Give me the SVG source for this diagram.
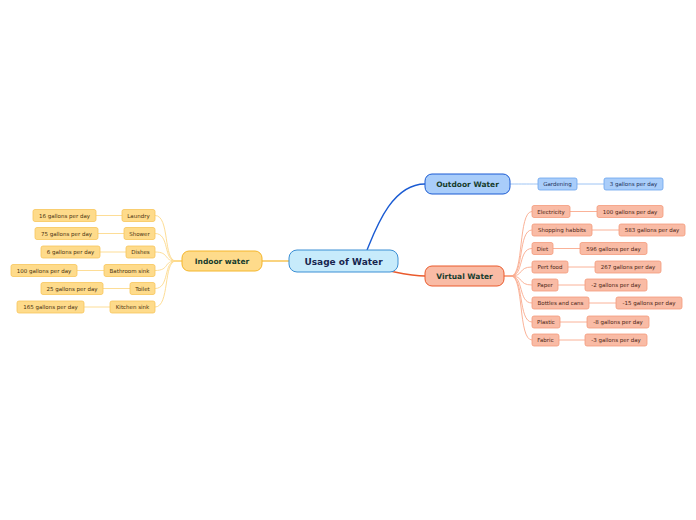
<svg xmlns="http://www.w3.org/2000/svg" width="696" height="520" viewBox="0 0 696 520">
<style>
text{font-family:"DejaVu Sans",Verdana,sans-serif;text-anchor:middle;dominant-baseline:central}
.main{font-weight:bold;font-size:7.5px}
.sub{font-size:5.5px}
.ind rect{fill:#fedb8b;stroke:#f8c55a;stroke-width:0.8}
.ind text{fill:#4a3210}
.vir rect{fill:#f9bba5;stroke:#f49a7b;stroke-width:0.8}
.vir text{fill:#4a1f14}
.out rect{fill:#a9cdfa;stroke:#6aa3ee;stroke-width:0.8}
.out text{fill:#1c2f57}
.cy{fill:none;stroke:#fdd98a;stroke-width:0.9}
.cv{fill:none;stroke:#f9a98c;stroke-width:0.9}
.cb{fill:none;stroke:#93bdf3;stroke-width:0.9}
</style>
<rect width="696" height="520" fill="#ffffff"/>
<g id="connectors">
<path d="M367,250 C376,228 392,184 425,184" fill="none" stroke="#1a5bd3" stroke-width="1.4"/>
<path d="M390,271 C405,274 414,276 425,276" fill="none" stroke="#ea5a2c" stroke-width="1.4"/>
<path d="M289,261 L261,261" fill="none" stroke="#f5b62b" stroke-width="1.2"/>
<path class="cb" d="M510,184 C524,184 524,184 538,184"/>
<path class="cb" d="M577,184 L604,184"/>
<path class="cy" d="M182,261 L176,261 C163,261 170,215.5 155,215.5"/>
<path class="cy" d="M182,261 L176,261 C163,261 170,233.5 155,233.5"/>
<path class="cy" d="M182,261 L176,261 C163,261 170,252 155,252"/>
<path class="cy" d="M182,261 L176,261 C163,261 170,270.5 155,270.5"/>
<path class="cy" d="M182,261 L176,261 C163,261 170,288.5 155,288.5"/>
<path class="cy" d="M182,261 L176,261 C163,261 170,307 155,307"/>
<path class="cy" d="M122,215.5 L96,215.5 M124,233.5 L98,233.5 M126,252 L100,252 M104,270.5 L77,270.5 M130,288.5 L103,288.5 M110,307 L84,307"/>
<path class="cv" d="M504,276 L511,276 C524,276 518,211.5 532,211.5"/>
<path class="cv" d="M504,276 L511,276 C524,276 518,230 532,230"/>
<path class="cv" d="M504,276 L511,276 C524,276 518,248.5 532,248.5"/>
<path class="cv" d="M504,276 L511,276 C524,276 518,267 532,267"/>
<path class="cv" d="M504,276 L511,276 C524,276 518,285 532,285"/>
<path class="cv" d="M504,276 L511,276 C524,276 518,303 532,303"/>
<path class="cv" d="M504,276 L511,276 C524,276 518,322 532,322"/>
<path class="cv" d="M504,276 L511,276 C524,276 518,340 532,340"/>
<path class="cv" d="M570,211.5 L597,211.5 M592,230 L619,230 M553,248.5 L580,248.5 M568,267 L595,267 M558,285 L585,285 M589,303 L616,303 M560,322 L587,322 M559,340 L585,340"/>
</g>
<g id="central">
<rect x="289" y="250" width="109" height="22" rx="8" fill="#c7ebfb" stroke="#3b8fd4" stroke-width="1"/>
<text x="343.5" y="261.5" font-weight="bold" font-size="9" fill="#17264f">Usage of Water</text>
</g>
<g id="outdoor" class="out">
<rect x="425" y="174" width="85" height="20" rx="7" style="stroke:#1a5bd3;stroke-width:1"/>
<text class="main" x="467.5" y="184.5" style="fill:#173d2e">Outdoor Water</text>
</g>
<g id="virtual" class="vir">
<rect x="425" y="266" width="79" height="20" rx="7" style="stroke:#ea5a2c;stroke-width:1"/>
<text class="main" x="464.5" y="276.5" style="fill:#173d2e">Virtual Water</text>
</g>
<g id="indoor" class="ind">
<rect x="182" y="251" width="80" height="20" rx="7" style="stroke:#f5b62b;stroke-width:1"/>
<text class="main" x="222" y="261.5" style="fill:#173d2e">Indoor water</text>
</g>
<g id="gardening" class="out"><rect x="538" y="178" width="39" height="12" rx="2"/><text class="sub" x="557.5" y="184.3">Gardening</text></g>
<g id="gardening-amt" class="out"><rect x="604" y="178" width="59" height="12" rx="2"/><text class="sub" x="633.5" y="184.3">3 gallons per day</text></g>
<g id="laundry" class="ind"><rect x="122" y="209.5" width="33" height="12" rx="2"/><text class="sub" x="138.5" y="215.8">Laundry</text></g>
<g id="laundry-amt" class="ind"><rect x="33" y="209.5" width="63" height="12" rx="2"/><text class="sub" x="64.5" y="215.8">16 gallons per day</text></g>
<g id="shower" class="ind"><rect x="124" y="227.5" width="31" height="12" rx="2"/><text class="sub" x="139.5" y="233.8">Shower</text></g>
<g id="shower-amt" class="ind"><rect x="35" y="227.5" width="63" height="12" rx="2"/><text class="sub" x="66.5" y="233.8">75 gallons per day</text></g>
<g id="dishes" class="ind"><rect x="126" y="246" width="29" height="12" rx="2"/><text class="sub" x="140.5" y="252.3">Dishes</text></g>
<g id="dishes-amt" class="ind"><rect x="41" y="246" width="59" height="12" rx="2"/><text class="sub" x="70.5" y="252.3">6 gallons per day</text></g>
<g id="bathroom" class="ind"><rect x="104" y="264.5" width="51" height="12" rx="2"/><text class="sub" x="129.5" y="270.8">Bathroom sink</text></g>
<g id="bathroom-amt" class="ind"><rect x="11" y="264.5" width="66" height="12" rx="2"/><text class="sub" x="44" y="270.8">100 gallons per day</text></g>
<g id="toilet" class="ind"><rect x="130" y="282.5" width="25" height="12" rx="2"/><text class="sub" x="142.5" y="288.8">Toilet</text></g>
<g id="toilet-amt" class="ind"><rect x="41" y="282.5" width="62" height="12" rx="2"/><text class="sub" x="72" y="288.8">25 gallons per day</text></g>
<g id="kitchen" class="ind"><rect x="110" y="301" width="45" height="12" rx="2"/><text class="sub" x="132.5" y="307.3">Kitchen sink</text></g>
<g id="kitchen-amt" class="ind"><rect x="17" y="301" width="67" height="12" rx="2"/><text class="sub" x="50.5" y="307.3">165 gallons per day</text></g>
<g id="electricity" class="vir"><rect x="532" y="205.5" width="38" height="12" rx="2"/><text class="sub" x="551" y="211.8">Electricity</text></g>
<g id="electricity-amt" class="vir"><rect x="597" y="205.5" width="66" height="12" rx="2"/><text class="sub" x="630" y="211.8">100 gallons per day</text></g>
<g id="shopping" class="vir"><rect x="532" y="224" width="60" height="12" rx="2"/><text class="sub" x="562" y="230.3">Shopping habbits</text></g>
<g id="shopping-amt" class="vir"><rect x="619" y="224" width="66" height="12" rx="2"/><text class="sub" x="652" y="230.3">583 gallons per day</text></g>
<g id="diet" class="vir"><rect x="532" y="242.5" width="21" height="12" rx="2"/><text class="sub" x="542.5" y="248.8">Diet</text></g>
<g id="diet-amt" class="vir"><rect x="580" y="242.5" width="67" height="12" rx="2"/><text class="sub" x="613.5" y="248.8">596 gallons per day</text></g>
<g id="pertfood" class="vir"><rect x="532" y="261" width="36" height="12" rx="2"/><text class="sub" x="550" y="267.3">Pert food</text></g>
<g id="pertfood-amt" class="vir"><rect x="595" y="261" width="66" height="12" rx="2"/><text class="sub" x="628" y="267.3">267 gallons per day</text></g>
<g id="paper" class="vir"><rect x="532" y="279" width="26" height="12" rx="2"/><text class="sub" x="545" y="285.3">Paper</text></g>
<g id="paper-amt" class="vir"><rect x="585" y="279" width="62" height="12" rx="2"/><text class="sub" x="616" y="285.3">-2 gallons per day</text></g>
<g id="bottles" class="vir"><rect x="532" y="297" width="57" height="12" rx="2"/><text class="sub" x="560.5" y="303.3">Bottles and cans</text></g>
<g id="bottles-amt" class="vir"><rect x="616" y="297" width="66" height="12" rx="2"/><text class="sub" x="649" y="303.3">-15 gallons per day</text></g>
<g id="plastic" class="vir"><rect x="532" y="316" width="28" height="12" rx="2"/><text class="sub" x="546" y="322.3">Plastic</text></g>
<g id="plastic-amt" class="vir"><rect x="587" y="316" width="62" height="12" rx="2"/><text class="sub" x="618" y="322.3">-8 gallons per day</text></g>
<g id="fabric" class="vir"><rect x="532" y="334" width="27" height="12" rx="2"/><text class="sub" x="545.5" y="340.3">Fabric</text></g>
<g id="fabric-amt" class="vir"><rect x="585" y="334" width="62" height="12" rx="2"/><text class="sub" x="616" y="340.3">-3 gallons per day</text></g>
</svg>
